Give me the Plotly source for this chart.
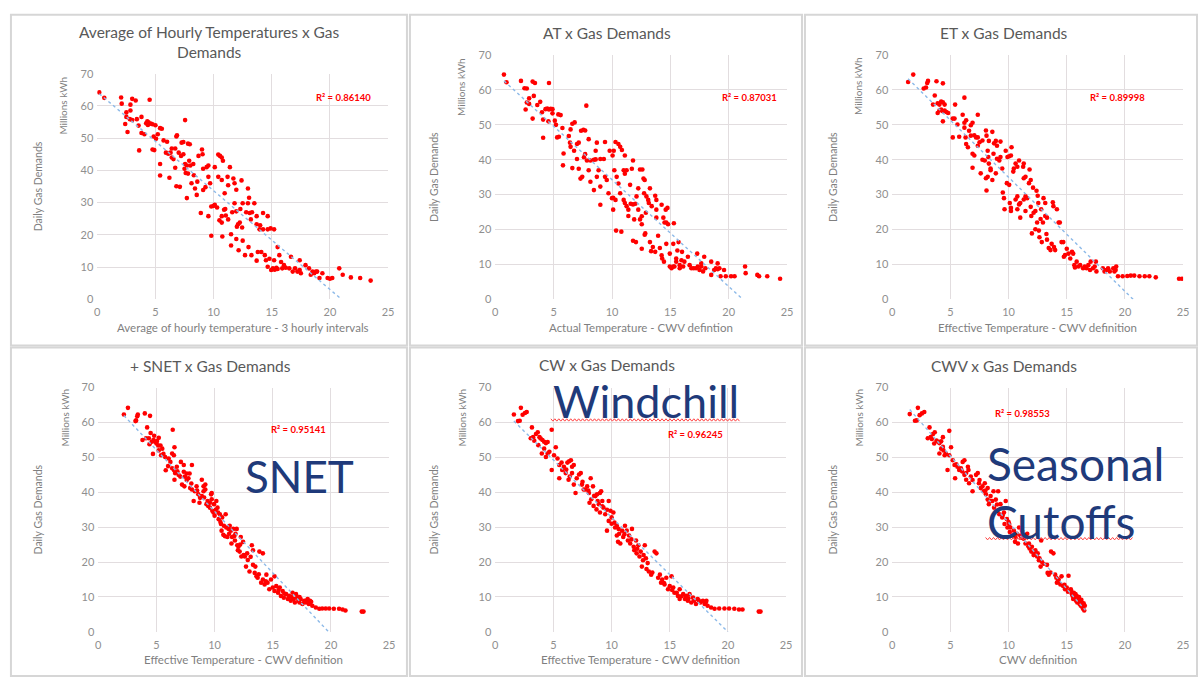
import plotly.graph_objects as go

# ---------------- data ----------------
# Each list holds (temperature, daily gas demand in millions kWh) readings.
hourly_pts = [
    (0.17, 64.2), (0.6, 62.5), (2.05, 62.6), (2.1, 60.7), (3.0, 62.2), (3.3, 61.7), (4.5, 61.9), (2.85, 60.4), (2.5, 58.0), (2.85, 58.6),
    (2.5, 56.6), (2.8, 55.9), (2.4, 54.4), (2.6, 51.9), (3.0, 55.6), (3.4, 55.9), (3.55, 53.9), (3.8, 56.6), (3.6, 46.2), (3.8, 51.6),
    (4.05, 51.2), (4.2, 54.6), (4.4, 54.9), (4.6, 54.5), (4.75, 54.3), (4.35, 54.1), (4.85, 50.5), (4.75, 46.5), (4.9, 46.3), (5.2, 51.2),
    (5.4, 53.1), (5.55, 52.9), (5.05, 49.8), (5.4, 42.0), (5.4, 38.4), (5.7, 49.3), (6.0, 48.9), (5.9, 45.5), (6.1, 45.2), (6.4, 46.8),
    (6.7, 46.8), (6.2, 37.7), (6.8, 50.5), (6.85, 50.9), (6.4, 44.0), (6.55, 43.5), (6.7, 40.8), (6.8, 35.1), (7.1, 34.9), (7.25, 48.6),
    (7.4, 48.8), (7.55, 55.6), (7.4, 45.0), (7.5, 40.5), (7.55, 42.0), (7.7, 31.4), (7.8, 48.3), (7.95, 48.1), (7.9, 43.0), (7.8, 39.0),
    (8.25, 42.0), (8.4, 34.4), (8.55, 32.4), (8.7, 44.5), (9.0, 46.5), (9.05, 45.0), (8.9, 26.8), (9.1, 33.9), (9.1, 40.5), (9.4, 41.0),
    (9.55, 41.5), (9.55, 25.8), (9.55, 38.0), (9.8, 19.7), (9.8, 28.8), (10.1, 29.3), (10.4, 44.9), (10.55, 44.5), (10.7, 44.0), (10.8, 43.0),
    (10.1, 41.0), (10.4, 38.0), (10.7, 37.0), (10.7, 25.8), (10.7, 23.8), (10.75, 19.5), (10.9, 27.8), (11.05, 26.0), (11.25, 24.8), (10.95, 32.9),
    (11.25, 35.4), (11.4, 41.0), (11.5, 16.7), (11.5, 20.2), (11.8, 36.0), (11.95, 34.0), (11.8, 29.8), (11.95, 27.3), (12.1, 23.3), (12.25, 23.8),
    (11.95, 18.7), (12.15, 15.2), (12.4, 36.9), (12.5, 29.8), (12.45, 22.3), (12.5, 18.2), (12.7, 13.7), (12.95, 34.4), (13.05, 31.5), (12.95, 29.8),
    (13.1, 26.8), (13.0, 16.2), (13.2, 24.8), (13.25, 13.7), (13.5, 29.8), (13.7, 25.8), (13.7, 23.3), (13.7, 12.0), (13.8, 14.7), (13.95, 21.7),
    (14.1, 14.7), (14.25, 21.7), (14.25, 26.8), (14.4, 13.7), (14.5, 12.1), (14.65, 25.8), (14.65, 21.7), (14.65, 10.1), (14.8, 12.6), (14.95, 9.1),
    (15.1, 9.6), (15.25, 9.2), (15.4, 9.8), (15.5, 9.4), (15.2, 21.7), (15.2, 12.1), (15.5, 16.2), (15.65, 13.7), (15.8, 11.6), (15.9, 9.6),
    (16.05, 10.6), (16.2, 9.8), (16.5, 9.6), (16.65, 13.2), (16.8, 8.6), (17.0, 9.6), (17.2, 8.6), (17.4, 9.1), (17.4, 12.1), (17.5, 8.1),
    (17.9, 10.6), (18.2, 9.6), (18.35, 7.6), (18.5, 8.6), (18.65, 8.1), (18.8, 8.6), (18.9, 8.6), (19.1, 6.6), (19.35, 8.1), (19.8, 6.6),
    (20.0, 6.4), (20.2, 6.6), (20.8, 9.6), (21.1, 7.6), (21.8, 6.8), (22.6, 6.6), (23.5, 5.8),
    (7.2, 44.5), (7.6, 39.2), (8.0, 41.5), (8.1, 36.0), (8.6, 36.5), (9.3, 34.8), (9.7, 36.0), (10.0, 29.0), (10.3, 28.5), (10.5, 24.5),
    (11.0, 28.0), (11.6, 27.0), (12.0, 22.5), (12.3, 28.0), (12.8, 27.0), (13.3, 27.0), (14.0, 23.0), (14.9, 22.0), (5.0, 54.0), (4.3, 55.2),
    (6.3, 45.5), (7.0, 45.5), (7.7, 41.5), (8.3, 38.5), (11.2, 38.0), (11.7, 37.5),
]

at_pts = [
    (0.74, 64.4), (0.96, 62.2), (2.2, 62.6), (2.5, 60.5), (2.7, 60.4), (3.2, 62.4), (3.4, 62.0), (4.6, 62.0), (2.9, 57.6), (3.3, 58.3),
    (2.7, 56.4), (2.9, 56.0), (2.6, 54.4), (3.2, 51.8), (3.6, 55.7), (3.85, 56.6), (4.0, 53.6), (4.1, 51.5), (4.1, 46.3), (4.3, 54.5),
    (4.45, 54.7), (4.6, 54.4), (4.75, 54.6), (4.9, 54.5), (4.9, 53.3), (4.55, 51.0), (5.1, 51.2), (5.4, 53.0), (5.6, 52.8), (5.2, 50.0),
    (5.3, 46.4), (5.45, 46.6), (5.75, 49.1), (5.85, 41.8), (5.8, 38.4), (6.45, 48.7), (6.6, 50.3), (6.8, 50.7), (6.3, 46.8), (6.4, 44.9),
    (6.45, 43.7), (6.75, 42.6), (6.6, 37.6), (7.0, 40.2), (7.0, 44.5), (7.15, 44.9), (7.15, 37.4), (7.3, 34.6), (7.45, 35.1), (7.35, 48.3),
    (7.55, 48.6), (7.7, 48.4), (7.8, 55.5), (7.6, 40.7), (7.7, 41.6), (7.85, 39.8), (8.15, 39.8), (8.0, 45.9), (8.0, 37.0), (8.15, 33.7),
    (8.45, 40.0), (8.6, 40.1), (8.45, 31.3), (8.6, 42.6), (8.7, 44.9), (8.7, 35.1), (8.85, 37.0), (9.0, 32.3), (9.0, 27.1), (9.0, 40.2),
    (9.3, 40.2), (9.4, 45.1), (9.4, 35.1), (9.55, 34.2), (9.8, 42.6), (9.7, 30.4), (10.0, 29.0), (10.1, 29.1), (10.05, 41.2), (10.15, 42.6),
    (10.2, 37.0), (10.3, 45.1), (10.55, 44.5), (10.7, 43.7), (10.85, 42.8), (10.4, 35.1), (10.3, 28.5), (10.1, 25.7), (10.35, 19.7), (10.8, 19.4),
    (10.55, 33.2), (10.7, 30.4), (11.0, 37.0), (11.1, 36.0), (11.1, 41.2), (11.0, 28.5), (11.1, 27.6), (11.25, 26.7), (11.4, 25.7), (11.25, 37.0),
    (11.4, 23.9), (11.55, 32.8), (11.7, 37.4), (11.8, 39.8), (11.6, 27.4), (11.8, 27.2), (12.0, 27.4), (11.9, 22.9), (11.8, 16.8), (12.05, 16.4),
    (12.1, 29.5), (12.25, 31.8), (12.4, 37.2), (12.6, 37.2), (12.25, 25.7), (12.4, 22.9), (12.55, 23.8), (12.55, 21.5), (12.55, 14.5), (12.7, 34.6),
    (12.8, 34.2), (12.75, 30.4), (12.95, 29.5), (12.8, 18.5), (12.85, 18.9), (12.9, 24.8), (13.1, 28.5), (13.15, 27.6), (13.4, 26.7), (13.25, 31.8),
    (13.25, 16.4), (13.35, 13.8), (13.5, 15.0), (13.7, 13.6), (13.7, 29.7), (13.8, 28.5), (13.8, 25.7), (13.8, 23.4), (13.95, 18.2), (14.1, 14.7),
    (14.25, 27.1), (14.25, 12.6), (14.3, 11.7), (14.4, 23.4), (14.45, 10.8), (14.5, 22.0), (14.6, 25.7), (14.65, 15.9), (14.65, 22.0), (14.75, 26.2),
    (14.8, 21.5), (14.95, 13.1), (14.95, 9.4), (15.1, 8.9), (15.25, 9.4), (15.35, 9.4), (15.25, 15.9), (15.3, 21.8), (15.5, 10.8), (15.5, 11.7),
    (15.6, 14.0), (15.7, 16.4), (15.8, 8.9), (15.8, 9.8), (15.95, 11.2), (16.0, 13.6), (16.1, 9.4), (16.2, 10.8), (16.5, 12.2), (16.65, 9.8),
    (16.8, 8.9), (17.0, 8.9), (17.2, 8.9), (17.3, 13.1), (17.35, 9.4), (17.5, 8.4), (17.65, 9.4), (17.8, 8.0), (17.9, 12.2), (18.0, 8.9),
    (17.65, 10.3), (18.5, 10.8), (18.5, 7.0), (18.75, 8.4), (18.9, 8.9), (19.05, 8.6), (19.2, 8.9), (19.05, 10.3), (19.3, 6.6), (19.6, 8.4),
    (19.75, 6.6), (20.2, 6.6), (20.5, 6.6), (21.4, 9.4), (21.45, 7.5), (22.45, 7.0), (22.6, 6.6), (23.3, 6.6), (24.4, 5.9),
]

et_pts = [
    (1.36, 62.3), (1.8, 64.4), (2.7, 60.4), (2.9, 60.7), (3.0, 62.0), (3.07, 62.6), (3.8, 62.5), (4.35, 61.9), (3.65, 58.4), (3.5, 55.8),
    (3.9, 56.2), (4.05, 55.8), (4.2, 56.7), (4.35, 56.5), (4.5, 55.8), (3.9, 53.4), (4.05, 54.1), (4.2, 54.4), (4.35, 53.9), (4.5, 54.1),
    (4.65, 53.7), (4.8, 53.4), (4.35, 51.0), (5.2, 51.8), (5.35, 51.8), (5.2, 46.4), (5.4, 55.8), (5.6, 50.1), (5.75, 46.6), (6.05, 52.9),
    (6.2, 57.8), (6.2, 50.6), (6.35, 51.3), (6.2, 49.2), (6.3, 46.4), (6.35, 44.5), (6.5, 43.6), (6.6, 48.3), (6.75, 49.9), (6.9, 50.6),
    (6.75, 46.9), (7.05, 47.0), (6.9, 41.7), (6.9, 37.7), (7.2, 46.4), (7.35, 46.4), (7.05, 41.2), (7.35, 52.9), (7.35, 44.0), (7.5, 45.0),
    (7.75, 45.5), (7.6, 36.1), (7.75, 40.0), (7.95, 39.8), (8.05, 48.4), (8.1, 46.9), (8.05, 34.7), (8.2, 35.1), (8.1, 31.2), (8.2, 42.6),
    (8.25, 40.8), (8.3, 45.4), (8.3, 38.9), (8.45, 37.5), (8.45, 37.0), (8.6, 34.2), (8.6, 48.0), (8.7, 41.7), (8.75, 44.7), (8.9, 45.4),
    (8.9, 36.1), (9.0, 44.0), (9.0, 40.3), (9.2, 39.8), (9.3, 40.8), (9.3, 45.2), (9.45, 37.5), (9.5, 30.6), (9.6, 29.0), (9.65, 25.8),
    (9.75, 42.6), (9.9, 40.8), (10.05, 41.0), (10.2, 41.2), (9.85, 33.3), (10.05, 32.8), (10.1, 27.6), (10.2, 25.3), (10.2, 26.2), (10.25, 43.6),
    (10.4, 36.6), (10.45, 37.5), (10.6, 38.9), (10.75, 38.0), (10.6, 28.6), (10.75, 29.5), (10.75, 25.8), (10.9, 27.2), (11.0, 27.6), (10.9, 39.8),
    (11.0, 23.4), (11.25, 38.0), (11.3, 38.9), (11.3, 34.7), (11.45, 35.1), (11.3, 28.6), (11.45, 29.5), (11.6, 29.0), (11.45, 25.3), (11.75, 33.3),
    (11.9, 34.2), (11.8, 37.2), (11.9, 26.5), (11.95, 23.9), (12.0, 18.9), (12.1, 32.0), (12.15, 24.8), (12.3, 25.3), (12.3, 20.1), (12.4, 31.1),
    (12.45, 22.0), (12.5, 29.7), (12.55, 27.6), (12.6, 19.7), (12.65, 17.8), (12.75, 23.0), (12.8, 25.8), (12.85, 16.4), (12.95, 22.0), (13.0, 29.0),
    (13.15, 27.6), (13.15, 23.9), (13.3, 23.4), (13.25, 18.7), (13.3, 17.1), (13.45, 14.7), (13.6, 14.1), (13.7, 15.9), (13.8, 27.8), (13.85, 26.7),
    (13.9, 15.0), (14.0, 14.1), (14.15, 25.8), (14.3, 22.0), (14.4, 22.0), (14.55, 16.4), (14.7, 16.4), (14.75, 12.2), (14.85, 12.7), (15.0, 14.5),
    (15.15, 13.1), (15.3, 11.7), (15.45, 13.6), (15.55, 13.1), (15.65, 9.8), (15.7, 9.1), (15.85, 10.8), (16.0, 9.4), (16.15, 9.8), (16.4, 8.9),
    (16.55, 9.4), (16.7, 8.9), (16.85, 9.8), (17.0, 8.4), (17.05, 10.8), (17.25, 8.9), (17.4, 9.4), (17.5, 10.8), (17.55, 8.0), (18.1, 8.9),
    (18.25, 8.0), (18.4, 8.4), (18.55, 8.9), (18.7, 8.0), (19.0, 8.9), (19.1, 8.0), (19.25, 9.4), (19.2, 8.4), (19.4, 6.6), (19.8, 6.6),
    (20.2, 6.7), (20.5, 6.8), (20.8, 6.8), (21.25, 6.6), (21.7, 6.6), (22.1, 6.6), (22.65, 6.3), (24.65, 5.9), (24.9, 5.9),
]

snet_pts = [
    (2.2, 62.3), (2.55, 64.2), (3.2, 60.4), (3.25, 60.6), (3.4, 62.3), (3.35, 61.8), (4.0, 62.6), (4.45, 61.9), (4.2, 58.6), (4.1, 55.5),
    (4.35, 55.5), (4.5, 57.0), (4.8, 56.2), (4.6, 54.5), (4.75, 55.0), (4.9, 54.5), (5.05, 54.7), (5.2, 55.6), (5.15, 53.4), (4.7, 51.0),
    (5.2, 52.0), (5.35, 53.4), (5.4, 50.6), (5.6, 51.0), (5.75, 50.1), (5.8, 46.3), (6.05, 49.7), (6.2, 48.7), (6.4, 57.9), (6.55, 52.9),
    (6.35, 51.1), (6.5, 50.6), (6.35, 46.9), (6.5, 46.4), (6.55, 43.6), (6.6, 45.5), (6.75, 47.3), (6.9, 45.0), (7.05, 44.5), (7.1, 48.7),
    (7.2, 42.2), (7.35, 47.8), (7.35, 45.9), (7.45, 44.5), (7.6, 45.4), (7.4, 41.7), (7.75, 44.0), (7.85, 45.4), (8.05, 47.8), (7.9, 41.2),
    (8.05, 40.8), (8.2, 37.5), (8.3, 40.3), (8.45, 41.7), (8.6, 39.4), (8.7, 37.0), (8.75, 38.4), (8.9, 38.9), (8.9, 43.6), (9.05, 41.7),
    (9.05, 40.3), (9.2, 40.8), (9.2, 42.2), (9.3, 36.6), (9.4, 37.5), (9.45, 36.1), (9.6, 35.6), (9.7, 39.4), (9.75, 39.8), (9.75, 38.0),
    (9.8, 34.7), (9.9, 34.2), (9.95, 36.6), (10.0, 33.3), (10.15, 37.5), (10.25, 35.6), (10.3, 34.2), (10.35, 32.3), (10.45, 33.7), (10.55, 30.9),
    (10.6, 29.0), (10.65, 32.8), (10.75, 27.8), (10.9, 27.4), (10.8, 30.4), (10.95, 33.7), (11.0, 29.9), (11.1, 27.2), (11.25, 28.1), (11.3, 30.4),
    (11.4, 29.0), (11.45, 25.3), (11.5, 27.2), (11.6, 29.5), (11.75, 26.2), (11.8, 28.1), (11.9, 29.5), (11.95, 24.8), (12.0, 23.4), (12.05, 24.4),
    (12.15, 23.0), (12.25, 27.2), (12.3, 21.6), (12.45, 25.8), (12.5, 22.0), (12.6, 21.6), (12.7, 18.7), (12.85, 20.6), (13.0, 17.3), (13.2, 24.8),
    (13.3, 23.4), (13.3, 19.2), (13.45, 16.9), (13.5, 18.7), (13.6, 15.9), (13.7, 15.5), (13.85, 23.0), (14.15, 22.5), (14.0, 14.1), (14.15, 15.0),
    (14.3, 13.6), (14.45, 16.4), (14.55, 14.1), (14.7, 12.2), (14.85, 15.0), (15.15, 15.9), (15.0, 12.7), (15.15, 11.7), (15.3, 13.1), (15.45, 11.2),
    (15.6, 12.7), (15.7, 10.3), (15.85, 11.7), (15.95, 9.8), (16.15, 10.8), (16.3, 9.4), (16.4, 10.3), (16.55, 8.9), (16.7, 11.2), (16.8, 9.4),
    (16.9, 8.4), (17.0, 10.8), (17.1, 9.8), (17.2, 8.9), (17.3, 8.4), (17.4, 9.4), (17.55, 8.0), (17.7, 8.9), (17.85, 8.4), (18.0, 9.4),
    (18.1, 8.0), (18.2, 8.9), (18.4, 7.5), (18.7, 7.0), (19.0, 6.6), (19.25, 6.7), (19.55, 6.7), (19.85, 6.7), (20.25, 6.6), (20.7, 6.6),
    (21.0, 6.4), (21.25, 6.1), (22.65, 5.8), (22.8, 5.8),
    (5.0, 54.0), (5.5, 52.5), (6.0, 47.5), (6.8, 46.0), (7.6, 43.5), (8.0, 42.5), (8.5, 40.5), (9.1, 38.5), (9.6, 37.0), (10.1, 35.0),
    (10.5, 31.5), (11.2, 29.5), (11.7, 27.5), (12.2, 25.0), (12.8, 22.5), (13.1, 21.5), (13.8, 16.5), (14.4, 14.5), (15.5, 12.0), (16.0, 11.0),
    (16.6, 10.0), (17.3, 10.0), (17.9, 9.0), (18.3, 8.6), (3.8, 55.0), (4.4, 53.8),
]

cw_pts = [
    (1.6, 62.3), (2.2, 64.2), (1.95, 60.4), (2.1, 60.5), (2.35, 62.2), (2.55, 62.7), (2.7, 63.0), (3.15, 58.6), (3.05, 55.5), (3.25, 55.8),
    (3.5, 56.7), (3.65, 57.2), (3.35, 54.8), (3.9, 55.4), (4.05, 55.0), (4.2, 54.5), (4.35, 54.1), (3.8, 55.8), (4.0, 51.1), (4.5, 54.4),
    (4.85, 57.9), (4.5, 51.1), (4.65, 51.6), (4.35, 50.1), (4.85, 46.4), (5.05, 50.6), (5.2, 52.9), (5.35, 49.7), (5.5, 47.8), (5.5, 44.0),
    (5.75, 46.4), (5.9, 47.3), (6.05, 45.5), (6.2, 48.5), (6.35, 48.9), (6.5, 49.2), (6.3, 43.6), (6.4, 44.5), (6.6, 47.3), (6.75, 47.8),
    (6.6, 45.5), (6.75, 42.2), (6.9, 39.8), (7.2, 45.1), (7.35, 45.5), (7.45, 42.2), (7.6, 40.8), (7.75, 40.8), (7.9, 41.7), (8.05, 39.8),
    (8.2, 44.0), (8.1, 37.0), (8.25, 38.0), (8.4, 41.7), (8.45, 36.1), (8.6, 38.9), (8.75, 39.4), (8.7, 35.1), (8.9, 36.6), (9.0, 39.8),
    (9.1, 40.3), (9.0, 34.2), (9.2, 37.5), (9.3, 35.6), (9.45, 33.7), (9.6, 29.0), (9.75, 37.5), (9.75, 31.8), (9.9, 34.7), (10.0, 32.8),
    (10.15, 34.2), (10.25, 31.3), (10.3, 29.9), (10.45, 30.4), (10.45, 27.6), (10.55, 25.8), (10.65, 28.1), (10.75, 25.3), (10.9, 29.0), (11.0, 27.2),
    (11.15, 30.4), (11.3, 29.0), (11.4, 26.2), (11.5, 27.6), (11.6, 25.3), (11.75, 29.5), (11.9, 24.4), (11.95, 23.4), (12.1, 26.2), (12.15, 22.5),
    (12.3, 24.8), (12.4, 21.6), (12.5, 23.0), (12.6, 18.7), (12.75, 22.0), (12.85, 24.8), (12.95, 21.1), (13.1, 19.7), (13.2, 17.3), (13.4, 16.4),
    (13.7, 23.0), (13.85, 22.5), (14.0, 15.5), (14.15, 16.4), (14.25, 14.1), (14.35, 15.0), (14.55, 13.6), (14.7, 15.5), (14.85, 12.2), (15.15, 15.9),
    (15.0, 13.1), (15.3, 12.7), (15.4, 11.2), (15.7, 10.3), (15.85, 9.4), (15.85, 12.2), (16.15, 10.8), (16.3, 9.4), (16.4, 10.3), (16.55, 8.9),
    (16.7, 10.8), (16.85, 8.4), (17.0, 9.8), (17.1, 8.9), (17.25, 8.0), (17.4, 9.4), (17.65, 8.4), (17.85, 8.9), (18.0, 8.0), (18.15, 8.9),
    (18.25, 7.5), (18.55, 7.0), (18.85, 6.6), (19.25, 6.7), (19.7, 6.7), (20.1, 6.7), (20.55, 6.6), (20.95, 6.4), (21.25, 6.4), (22.65, 5.8),
    (22.8, 5.8),
    (3.7, 53.5), (4.2, 52.5), (5.7, 48.5), (6.1, 46.5), (7.0, 44.0), (7.5, 43.0), (8.0, 40.5), (8.5, 39.0), (8.8, 37.5), (9.2, 36.0),
    (9.6, 35.0), (10.0, 31.0), (10.6, 29.5), (11.1, 28.0), (11.7, 26.5), (12.2, 23.8), (12.7, 20.5), (13.0, 18.0), (13.5, 17.0), (14.5, 14.0),
    (15.2, 12.0), (15.6, 11.2), (16.0, 10.2), (16.6, 9.6), (17.5, 9.0), (18.1, 8.4),
]

cwv_pts = [
    (1.5, 62.4), (2.2, 64.2), (1.95, 60.5), (2.1, 60.6), (2.35, 62.1), (2.55, 62.6), (2.75, 63.0), (3.2, 58.6), (3.05, 55.5), (3.3, 55.8),
    (3.5, 56.7), (3.65, 57.2), (3.4, 55.3), (3.8, 54.8), (3.95, 54.5), (4.05, 54.1), (4.2, 54.6), (4.35, 55.8), (4.9, 57.6), (4.05, 51.1),
    (4.2, 52.5), (4.35, 53.0), (4.5, 50.6), (4.6, 51.1), (4.75, 46.4), (4.9, 50.6), (5.05, 52.9), (5.2, 49.2), (5.35, 47.8), (5.4, 44.0),
    (5.6, 47.3), (5.75, 46.4), (5.9, 46.9), (6.05, 48.7), (6.2, 49.2), (6.2, 45.0), (6.35, 45.5), (6.35, 43.6), (6.5, 47.3), (6.55, 46.4),
    (6.6, 42.6), (6.75, 44.5), (6.9, 40.3), (7.2, 45.0), (7.35, 45.5), (7.45, 42.6), (7.6, 41.2), (7.75, 41.7), (7.85, 40.3), (7.95, 42.6),
    (8.05, 39.4), (8.2, 41.2), (8.2, 37.9), (8.3, 36.6), (8.45, 38.9), (8.6, 37.5), (8.7, 40.3), (8.75, 35.6), (8.9, 37.9), (9.05, 34.7),
    (9.1, 40.3), (9.2, 33.7), (9.3, 36.6), (9.45, 32.8), (9.6, 34.2), (9.65, 30.9), (9.75, 37.5), (9.85, 32.3), (9.9, 29.9), (10.05, 30.9),
    (10.1, 28.6), (10.15, 29.9), (10.3, 27.6), (10.45, 29.0), (10.55, 25.8), (10.7, 28.1), (10.8, 25.3), (10.9, 29.9), (11.0, 27.6), (11.15, 29.0),
    (11.3, 26.7), (11.45, 25.3), (11.6, 28.1), (11.75, 25.3), (11.8, 23.9), (11.95, 23.0), (12.0, 24.4), (12.15, 22.0), (12.3, 23.4), (12.45, 21.6),
    (12.5, 22.5), (12.65, 21.1), (12.75, 18.7), (12.8, 26.2), (12.85, 20.1), (13.3, 19.2), (13.35, 16.9), (13.45, 16.4), (13.65, 23.0), (13.85, 22.5),
    (14.0, 16.4), (14.1, 15.5), (14.15, 14.1), (14.3, 15.0), (14.45, 13.6), (14.55, 15.9), (14.7, 13.1), (14.85, 12.2), (15.0, 12.7), (15.15, 16.1),
    (15.25, 11.7), (15.35, 12.2), (15.45, 10.8), (15.5, 10.3), (15.55, 9.4), (15.6, 11.2), (15.7, 9.8), (15.8, 8.9), (15.85, 10.3), (15.9, 8.4),
    (16.0, 9.4), (16.1, 8.0), (16.15, 8.9), (16.2, 7.5), (16.3, 8.4), (16.35, 7.0), (16.4, 6.6), (16.5, 6.1), (16.55, 7.5),
    (3.6, 54.0), (4.4, 52.0), (5.5, 48.0), (6.0, 46.0), (6.9, 43.5), (7.5, 43.5), (8.0, 40.5), (8.5, 37.5), (9.0, 36.5), (9.5, 33.5),
    (10.0, 31.5), (10.6, 27.0), (11.1, 27.0), (11.7, 24.5), (12.2, 23.0), (12.6, 20.5), (13.0, 19.5), (13.6, 17.0), (14.25, 14.5), (14.8, 13.5),
    (15.1, 11.5), (15.4, 11.5), (15.75, 10.8), (16.05, 10.0), (16.25, 9.2), (16.45, 8.2),
]

# linear trendline end points (as drawn by the spreadsheet)
trend_hourly = [(0.17, 63.8), (21.0, 0.0)]
trend_at = [(0.75, 62.6), (21.2, 0.0)]
trend_et = [(1.36, 63.2), (20.7, 0.0)]
trend_snet = [(2.2, 62.0), (19.8, 0.0)]
trend_cw = [(1.6, 60.4), (20.0, 0.0)]
trend_cwv = [(1.5, 63.7), (16.6, 6.2)]

titles = ["Average of Hourly Temperatures x Gas<br>Demands", "AT x Gas Demands", "ET x Gas Demands",
          "+ SNET x Gas Demands", "CW x Gas Demands", "CWV x Gas Demands"]
x_titles = ["Average of hourly temperature - 3 hourly intervals", "Actual Temperature - CWV defintion",
            "Effective Temperature - CWV definition", "Effective Temperature - CWV definition",
            "Effective Temperature - CWV definition", "CWV definition"]
r2_values = ["0.86140", "0.87031", "0.89998", "0.95141", "0.96245", "0.98553"]
x_ticks = [0, 5, 10, 15, 20, 25]
y_ticks = [0, 10, 20, 30, 40, 50, 60, 70]
y_title = "Daily Gas Demands"
unit_label = "Millions kWh"

# ---------------- layout geometry (pixels) ----------------
W, H = 1203, 682
FONT = "Lato, 'Open Sans', sans-serif"


def px(x):
    return x / W


def py(y):
    return 1 - y / H


panels = [
    dict(pts=hourly_pts, trend=trend_hourly, box=(95, 388, 68, 298), title_xy=(208, 36), xt_y=327, yt_x=35, unit_xy=(61, 101), r2_xy=(343, 92)),
    dict(pts=at_pts, trend=trend_at, box=(496, 790, 49, 298), title_xy=(609, 27), xt_y=327, yt_x=434, unit_xy=(462, 82), r2_xy=(752, 92)),
    dict(pts=et_pts, trend=trend_et, box=(896, 1189, 49, 298), title_xy=(1009, 27), xt_y=327, yt_x=836, unit_xy=(862, 81), r2_xy=(1123, 92)),
    dict(pts=snet_pts, trend=trend_snet, box=(96, 389, 388, 637), title_xy=(209, 366), xt_y=665, yt_x=35, unit_xy=(62, 419), r2_xy=(298, 431)),
    dict(pts=cw_pts, trend=trend_cw, box=(496, 789, 388, 637), title_xy=(609, 365), xt_y=665, yt_x=434, unit_xy=(462, 419), r2_xy=(698, 436)),
    dict(pts=cwv_pts, trend=trend_cwv, box=(896, 1189, 388, 637), title_xy=(1009, 366), xt_y=665, yt_x=836, unit_xy=(862, 419), r2_xy=(1027, 414)),
]

fig = go.Figure()
annotations = []
shapes = []
layout_axes = {}

GRID = "#E2DDDF"
TICK_COLOR = "#8F8F8F"

for i, p in enumerate(panels):
    n = "" if i == 0 else str(i + 1)
    xs = [a for a, b in p["pts"]]
    ys = [b for a, b in p["pts"]]
    fig.add_trace(go.Scatter(
        x=xs, y=ys, mode="markers", xaxis="x" + n, yaxis="y" + n,
        marker=dict(color="#FF0000", size=4.6, line=dict(width=0)), showlegend=False, hoverinfo="skip"))
    fig.add_trace(go.Scatter(
        x=[a for a, b in p["trend"]], y=[b for a, b in p["trend"]], mode="lines",
        xaxis="x" + n, yaxis="y" + n,
        line=dict(color="#8CB9E8", width=1.4, dash="dot"), showlegend=False, hoverinfo="skip"))

    l, r, t, b = p["box"]
    layout_axes["xaxis" + n] = dict(
        domain=[px(l), px(r)], range=[0, 25], tickvals=x_ticks, anchor="y" + n,
        showgrid=True, gridcolor=GRID, gridwidth=1, zeroline=False, showline=False,
        ticks="", ticklabelstandoff=5,
        tickfont=dict(family=FONT, size=11, color=TICK_COLOR), fixedrange=True)
    layout_axes["yaxis" + n] = dict(
        domain=[py(b), py(t)], range=[0, 70], tickvals=y_ticks, anchor="x" + n,
        showgrid=True, gridcolor=GRID, gridwidth=1, zeroline=False, showline=False,
        ticks="", ticklabelstandoff=3,
        tickfont=dict(family=FONT, size=11, color=TICK_COLOR), fixedrange=True)

    # chart title
    tx, ty = p["title_xy"]
    annotations.append(dict(text=titles[i], x=px(tx), y=py(ty), xref="paper", yref="paper",
                            showarrow=False, xanchor="center", yanchor="middle",
                            font=dict(family=FONT, size=15.5, color="#595959")))
    # x axis title
    annotations.append(dict(text=x_titles[i], x=px((l + r) / 2), y=py(p["xt_y"]), xref="paper", yref="paper",
                            showarrow=False, xanchor="center", yanchor="middle",
                            font=dict(family=FONT, size=11.5, color="#7F7F7F")))
    # y axis title
    annotations.append(dict(text=y_title, x=px(p["yt_x"]), y=py((t + b) / 2), xref="paper", yref="paper",
                            showarrow=False, textangle=-90, xanchor="center", yanchor="middle",
                            font=dict(family=FONT, size=10.5, color="#7F7F7F")))
    # display-unit label
    ux, uy = p["unit_xy"]
    annotations.append(dict(text=unit_label, x=px(ux), y=py(uy), xref="paper", yref="paper",
                            showarrow=False, textangle=-90, xanchor="center", yanchor="middle",
                            font=dict(family=FONT, size=10, color="#7F7F7F")))
    # R squared
    rx, ry = p["r2_xy"]
    annotations.append(dict(text="<b>R² = " + r2_values[i] + "</b>", x=px(rx), y=py(ry), xref="paper", yref="paper",
                            showarrow=False, xanchor="center", yanchor="middle",
                            font=dict(family=FONT, size=9.5, color="#FF0000")))

# panel frames
frames = [(8, 8, 407, 345), (410, 8, 805, 345), (808, 8, 1203, 345),
          (8, 347, 407, 682), (410, 347, 805, 682), (808, 347, 1203, 682)]
for x0, y0, x1, y1 in frames:
    shapes.append(dict(type="rect", xref="paper", yref="paper", x0=px(x0), x1=px(x1), y0=py(y1), y1=py(y0),
                       line=dict(color="#D6D6D6", width=2), fillcolor="rgba(0,0,0,0)", layer="below"))

# overlay callout words
NAVY = "#1F3A7A"
callouts = [("SNET", 299, 478, "center", 44), ("Windchill", 648, 401.5, "center", 45),
            ("Seasonal", 989, 465, "left", 46), ("Cutoffs", 989, 525, "left", 46)]
for word, cx, cy, anchor, size in callouts:
    annotations.append(dict(text=word, x=px(cx), y=py(cy), xref="paper", yref="paper", showarrow=False,
                            xanchor=anchor, yanchor="middle",
                            font=dict(family=FONT, size=size, color=NAVY)))


def wavy(x0, x1, y, amp=1.2, step=2.0):
    pts = []
    x = x0
    up = True
    while x <= x1:
        pts.append("%.5f,%.5f" % (px(x), py(y - amp if up else y + amp)))
        up = not up
        x += step
    return "M " + " L ".join(pts)


for x0, x1, y in [(552, 743, 421), (990, 1139, 542)]:
    shapes.append(dict(type="path", xref="paper", yref="paper", path=wavy(x0, x1, y),
                       line=dict(color="#FF4040", width=1)))

fig.update_layout(
    width=W, height=H, margin=dict(l=0, r=0, t=0, b=0),
    paper_bgcolor="white", plot_bgcolor="white",
    annotations=annotations, shapes=shapes, showlegend=False,
    **layout_axes)

fig.write_html("out.html", config={"displayModeBar": False},
               post_script="document.body.style.margin='0';document.body.style.overflow='hidden';")
